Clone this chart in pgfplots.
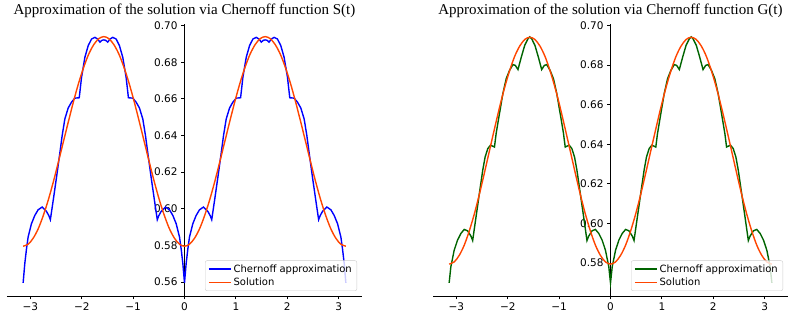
\documentclass[border=0pt]{standalone}
\usepackage{pgfplots}
\pgfplotsset{compat=1.18}
\usepackage{pgfplotstable}
\usepackage{fontspec}
\setmainfont{DejaVu Sans}
\newfontfamily\titlefont{Liberation Serif}

\definecolor{chblue}{HTML}{0000FF}
\definecolor{chgreen}{HTML}{006400}
\definecolor{solred}{HTML}{FF4500}

% solution u(x) (same curve in each)
\pgfplotstableread{
x v
-3.1416 0.5795
-3.0434 0.5806
-2.9452 0.5839
-2.8471 0.5891
-2.7489 0.5963
-2.6507 0.6049
-2.5525 0.6148
-2.4544 0.6256
-2.3562 0.6368
-2.2580 0.6479
-2.1598 0.6587
-2.0617 0.6686
-1.9635 0.6772
-1.8653 0.6844
-1.7671 0.6896
-1.6690 0.6929
-1.5708 0.6940
-1.4726 0.6929
-1.3744 0.6896
-1.2763 0.6844
-1.1781 0.6772
-1.0799 0.6686
-0.9817 0.6587
-0.8836 0.6479
-0.7854 0.6368
-0.6872 0.6256
-0.5890 0.6148
-0.4909 0.6049
-0.3927 0.5963
-0.2945 0.5891
-0.1963 0.5839
-0.0982 0.5806
0.0000 0.5795
0.0982 0.5806
0.1963 0.5839
0.2945 0.5891
0.3927 0.5963
0.4909 0.6049
0.5890 0.6148
0.6872 0.6256
0.7854 0.6368
0.8836 0.6479
0.9817 0.6587
1.0799 0.6686
1.1781 0.6772
1.2763 0.6844
1.3744 0.6896
1.4726 0.6929
1.5708 0.6940
1.6690 0.6929
1.7671 0.6896
1.8653 0.6844
1.9635 0.6772
2.0617 0.6686
2.1598 0.6587
2.2580 0.6479
2.3562 0.6368
2.4544 0.6256
2.5525 0.6148
2.6507 0.6049
2.7489 0.5963
2.8471 0.5891
2.9452 0.5839
3.0434 0.5806
3.1416 0.5795
}\solution

% Chernoff approximation with S(t)
\pgfplotstableread{
x v
-3.1416 0.5595
-3.1096 0.5700
-3.0766 0.5780
-3.0446 0.5845
-2.9796 0.5918
-2.9146 0.5963
-2.8496 0.5994
-2.7716 0.6009
-2.6866 0.5985
-2.6416 0.5962
-2.6116 0.5940
-2.5566 0.6045
-2.4916 0.6172
-2.4266 0.6305
-2.3816 0.6400
-2.3296 0.6490
-2.2646 0.6550
-2.1996 0.6582
-2.1346 0.6604
-2.0496 0.6606
-2.0046 0.6718
-1.9396 0.6827
-1.8746 0.6891
-1.8096 0.6927
-1.7446 0.6936
-1.6926 0.6927
-1.6466 0.6910
-1.6066 0.6920
-1.5708 0.6922
-1.5350 0.6920
-1.4950 0.6910
-1.4490 0.6927
-1.3970 0.6936
-1.3320 0.6927
-1.2670 0.6891
-1.2020 0.6827
-1.1370 0.6718
-1.0920 0.6606
-1.0070 0.6604
-0.9420 0.6582
-0.8770 0.6550
-0.8120 0.6490
-0.7600 0.6400
-0.7150 0.6305
-0.6500 0.6172
-0.5850 0.6045
-0.5300 0.5940
-0.5000 0.5962
-0.4550 0.5985
-0.3700 0.6009
-0.2920 0.5994
-0.2270 0.5963
-0.1620 0.5918
-0.0970 0.5845
-0.0650 0.5780
-0.0320 0.5700
0.0000 0.5595
0.0320 0.5700
0.0650 0.5780
0.0970 0.5845
0.1620 0.5918
0.2270 0.5963
0.2920 0.5994
0.3700 0.6009
0.4550 0.5985
0.5000 0.5962
0.5300 0.5940
0.5850 0.6045
0.6500 0.6172
0.7150 0.6305
0.7600 0.6400
0.8120 0.6490
0.8770 0.6550
0.9420 0.6582
1.0070 0.6604
1.0920 0.6606
1.1370 0.6718
1.2020 0.6827
1.2670 0.6891
1.3320 0.6927
1.3970 0.6936
1.4490 0.6927
1.4950 0.6910
1.5350 0.6920
1.5708 0.6922
1.6066 0.6920
1.6466 0.6910
1.6926 0.6927
1.7446 0.6936
1.8096 0.6927
1.8746 0.6891
1.9396 0.6827
2.0046 0.6718
2.0496 0.6606
2.1346 0.6604
2.1996 0.6582
2.2646 0.6550
2.3296 0.6490
2.3816 0.6400
2.4266 0.6305
2.4916 0.6172
2.5566 0.6045
2.6116 0.5940
2.6416 0.5962
2.6866 0.5985
2.7716 0.6009
2.8496 0.5994
2.9146 0.5963
2.9796 0.5918
3.0446 0.5845
3.0766 0.5780
3.1096 0.5700
3.1416 0.5595
}\chernS

% Chernoff approximation with G(t)
\pgfplotstableread{
x v
-3.1416 0.5700
-3.1086 0.5781
-3.0436 0.5865
-2.9786 0.5916
-2.9126 0.5950
-2.8476 0.5970
-2.7826 0.5963
-2.7166 0.5936
-2.6836 0.5914
-2.6186 0.6033
-2.5536 0.6151
-2.4876 0.6269
-2.4416 0.6335
-2.3896 0.6378
-2.3376 0.6395
-2.2916 0.6390
-2.2596 0.6386
-2.2266 0.6454
-2.1616 0.6555
-2.0956 0.6656
-2.0306 0.6731
-1.9656 0.6773
-1.8996 0.6802
-1.8536 0.6798
-1.8016 0.6777
-1.7366 0.6840
-1.6706 0.6899
-1.6056 0.6933
-1.5708 0.6942
-1.5360 0.6933
-1.4710 0.6899
-1.4050 0.6840
-1.3400 0.6777
-1.2880 0.6798
-1.2420 0.6802
-1.1760 0.6773
-1.1110 0.6731
-1.0460 0.6656
-0.9800 0.6555
-0.9150 0.6454
-0.8820 0.6386
-0.8500 0.6390
-0.8040 0.6395
-0.7520 0.6378
-0.7000 0.6335
-0.6540 0.6269
-0.5880 0.6151
-0.5230 0.6033
-0.4580 0.5914
-0.4250 0.5936
-0.3590 0.5963
-0.2940 0.5970
-0.2290 0.5950
-0.1630 0.5916
-0.0980 0.5865
-0.0330 0.5781
0.0000 0.5700
0.0330 0.5781
0.0980 0.5865
0.1630 0.5916
0.2290 0.5950
0.2940 0.5970
0.3590 0.5963
0.4250 0.5936
0.4580 0.5914
0.5230 0.6033
0.5880 0.6151
0.6540 0.6269
0.7000 0.6335
0.7520 0.6378
0.8040 0.6395
0.8500 0.6390
0.8820 0.6386
0.9150 0.6454
0.9800 0.6555
1.0460 0.6656
1.1110 0.6731
1.1760 0.6773
1.2420 0.6802
1.2880 0.6798
1.3400 0.6777
1.4050 0.6840
1.4710 0.6899
1.5360 0.6933
1.5708 0.6942
1.6056 0.6933
1.6706 0.6899
1.7366 0.6840
1.8016 0.6777
1.8536 0.6798
1.8996 0.6802
1.9656 0.6773
2.0306 0.6731
2.0956 0.6656
2.1616 0.6555
2.2266 0.6454
2.2596 0.6386
2.2916 0.6390
2.3376 0.6395
2.3896 0.6378
2.4416 0.6335
2.4876 0.6269
2.5536 0.6151
2.6186 0.6033
2.6836 0.5914
2.7166 0.5936
2.7826 0.5963
2.8476 0.5970
2.9126 0.5950
2.9786 0.5916
3.0436 0.5865
3.1086 0.5781
3.1416 0.5700
}\chernG

\pgfplotsset{
  chernoff/.style={
    scale only axis, width=355pt, height=272pt,
    axis x line=bottom, axis y line=center,
    axis line style={-, black, line width=0.8pt},
    xmin=-3.456, xmax=3.456,
    xtick={-3,-2,-1,0,1,2,3},
    xticklabels={−3,−2,−1,0,1,2,3},
    tick align=outside, major tick length=3.5pt,
    tick style={black, line width=0.8pt},
    ticklabel style={font=\fontsize{10.5}{12}\selectfont},
    title style={font=\titlefont\fontsize{15}{18}\selectfont,
      at={(0.5,1)}, anchor=base, yshift=3pt},
    legend style={at={(1,0)}, anchor=south east, xshift=-5pt, yshift=5pt,
      draw=black!20, rounded corners=2pt, fill=white, fill opacity=0.8,
      text opacity=1, font=\fontsize{10}{12}\selectfont},
    legend cell align=left,
    legend image code/.code={\draw[#1] (0pt,0pt) -- (22pt,0pt);},
    every axis plot/.append style={line width=1.4pt},
  }
}

\begin{document}
\begin{tikzpicture}
\path[use as bounding box] (-7pt,-24pt) rectangle (788pt,296pt);

\begin{axis}[chernoff,
  at={(0pt,0pt)},
  title={Approximation of the solution via Chernoff function S(t)},
  ymin=0.5523, ymax=0.7009,
  ytick={0.56,0.58,0.60,0.62,0.64,0.66,0.68,0.70},
  yticklabels={0.56,0.58,0.60,0.62,0.64,0.66,0.68,0.70},
]
\addplot[chblue] table {\chernS};
\addplot[solred, smooth] table {\solution};
\legend{Chernoff approximation, Solution}
\end{axis}

\begin{axis}[chernoff,
  at={(426pt,0pt)},
  title={Approximation of the solution via Chernoff function G(t)},
  ymin=0.5634, ymax=0.7007,
  ytick={0.58,0.60,0.62,0.64,0.66,0.68,0.70},
  yticklabels={0.58,0.60,0.62,0.64,0.66,0.68,0.70},
]
\addplot[chgreen] table {\chernG};
\addplot[solred, smooth] table {\solution};
\legend{Chernoff approximation, Solution}
\end{axis}
\end{tikzpicture}
\end{document}
